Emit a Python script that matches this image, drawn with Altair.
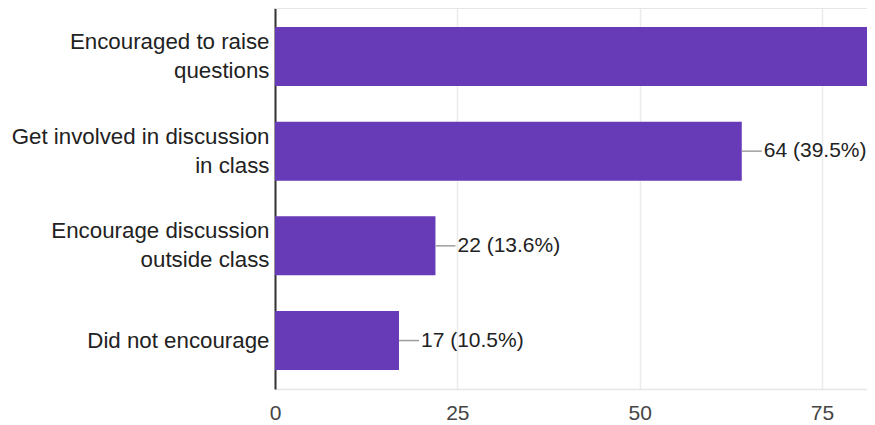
import altair as alt
import pandas as pd

categories = ["Encouraged to raise|questions", "Get involved in discussion|in class",
              "Encourage discussion|outside class", "Did not encourage"]
counts = [98, 64, 22, 17]
percents = [60.5, 39.5, 13.6, 10.5]
x_ticks = [0, 25, 50, 75]

df = pd.DataFrame({"cat": categories, "count": counts, "pct": percents})
df["label"] = [f"{c} ({p}%)" for c, p in zip(counts, percents)]

W, H = 592, 381
FONT = "Arial, Liberation Sans, sans-serif"

x = alt.X("count:Q", scale=alt.Scale(domain=[0, 81.17], nice=False),
          axis=alt.Axis(values=x_ticks, grid=True, gridColor="#ebebeb", gridWidth=1.5,
                        domainColor="#e6e6e6", domainWidth=1.5, ticks=False,
                        labelFontSize=21, labelColor="#444", labelPadding=13,
                        labelFlush=False, labelFont=FONT, title=None))
y = alt.Y("cat:N", sort=categories,
          scale=alt.Scale(paddingInner=0.377, paddingOuter=0.2),
          axis=alt.Axis(domainColor="#333", domainWidth=2, ticks=False, labelPadding=6,
                        labelFontSize=22.3, labelColor="#222", labelLineHeight=29,
                        labelFont=FONT, labelLimit=400, title=None,
                        labelOffset={"condition": {"test": "indexof(datum.label, '|') >= 0",
                                                   "value": -14.5}, "value": 0},
                        labelExpr="split(datum.label, '|')"))

base = alt.Chart(df)

top_line = base.mark_rule(color="#e6e6e6", strokeWidth=1.5).encode(
    x=alt.value(0), x2=alt.value(W), y=alt.value(0))

bars = base.mark_bar(color="#673ab7", clip=True).encode(x=x, y=y)

connectors = base.mark_rule(color="#9e9e9e", strokeWidth=1.5, x2Offset=20, clip=True).encode(
    x="count:Q", x2="count:Q", y=alt.Y("cat:N", sort=categories))

texts = base.mark_text(align="left", baseline="middle", dx=22, fontSize=21,
                       color="#222", font=FONT, clip=True).encode(
    x="count:Q", y=alt.Y("cat:N", sort=categories), text="label:N")

chart = alt.layer(top_line, bars, connectors, texts).properties(
    width=W, height=H, autosize="none",
    padding={"left": 267, "top": 0, "right": 0, "bottom": 33},
).configure_view(stroke=None)

chart.save("out.html", embed_options={"renderer": "svg", "actions": False})
